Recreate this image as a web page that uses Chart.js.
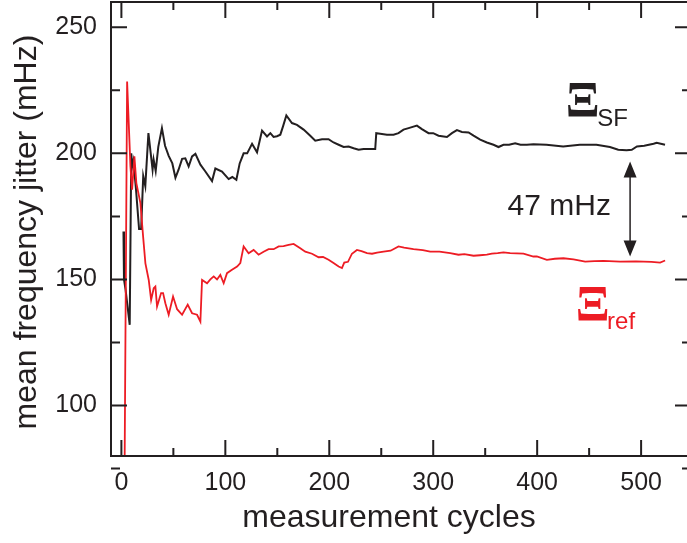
<!DOCTYPE html>
<html>
<head>
<meta charset="utf-8">
<script src="https://cdn.jsdelivr.net/npm/chart.js@4"></script>
<style>
  html, body { margin: 0; padding: 0; background: #fff; overflow: hidden; }
  #wrap { width: 692px; height: 543px; }
</style>
</head>
<body>
<div id="wrap"><canvas id="jitter_chart" width="692" height="543"></canvas></div>
<script>
// values (cycles, mHz)
const sfCycles = [2, 2.5, 4, 8, 9.5, 10.5, 11.5, 14, 17, 19, 21, 23, 26, 30, 31, 33, 35.5, 39, 42, 45.5, 49, 52, 55, 58.4, 61.5, 64.7, 68, 71.2, 76, 80.8, 87.2, 90.4, 96.8, 103.2, 106.7, 110.6, 113.8, 117.6, 121, 125.7, 130.5, 135.3, 140.1, 143.3, 146.4, 149.7, 152.9, 155.5, 158.7, 164.1, 168.9, 175.3, 181.7, 186.5, 193, 199.3, 204.1, 209, 213.8, 218.6, 223.4, 228.2, 233, 244.2, 245.2, 249, 255.5, 261.8, 266.6, 271.4, 276.3, 284.3, 289.1, 295.5, 300, 305.1, 313.2, 318, 322.8, 327.6, 334, 338.8, 345.2, 351.6, 358, 362.8, 367.6, 373, 378.8, 384, 390.1, 396.4, 409, 425, 441, 457, 470, 478, 486, 491, 496, 503, 512, 515, 523];
const sfJitter = [169, 150, 146, 132, 200, 195, 197, 186, 170, 170, 191, 187, 208, 193.5, 197.5, 193, 202.6, 210, 203, 199, 196, 190.3, 193.5, 197.8, 198, 194.8, 198.8, 199.8, 195.5, 192.8, 189, 194, 192.8, 189.8, 190.6, 189.5, 196, 200, 200, 203.8, 200.4, 209, 206.7, 208, 206.5, 206.8, 207.4, 210.7, 215, 212, 211.3, 209.4, 207, 205, 205.6, 205.6, 204.3, 203.4, 202.5, 202.7, 202, 201.4, 201.7, 201.7, 208, 207.8, 207.4, 207.4, 208, 209.4, 210, 211, 209.6, 208, 208, 207, 206.5, 208, 209.2, 208.5, 208.3, 207, 205.4, 204.3, 203.4, 202.5, 203.4, 203.4, 204, 203.4, 203.4, 203.6, 203.4, 202.7, 203.4, 203.4, 202.5, 201.4, 201.2, 201.4, 202.7, 203, 203.8, 204.2, 203.4];

const refCycles = [3, 5.5, 8.7, 10.3, 12.5, 14.4, 18.3, 20.9, 23.1, 26.3, 28.6, 31.1, 32.7, 34.3, 38.2, 40.1, 42.3, 45.5, 49.7, 53.6, 58.4, 63.8, 68, 72.8, 76, 77.6, 82.4, 85.6, 88.8, 92, 95.2, 98.4, 101.6, 106.4, 111.3, 114.4, 117.6, 122.4, 127.2, 132, 136.8, 141.6, 146.5, 151.3, 156, 160.9, 165.7, 172.1, 176.9, 183.4, 189.7, 194, 199.3, 204.1, 209, 212.2, 214.4, 218, 221.8, 226.6, 231, 236.3, 241.1, 246, 252.2, 259, 266.6, 272, 281, 290, 297.1, 306, 316.3, 324.3, 330, 338.8, 345, 351.6, 356.4, 362, 367.6, 374, 386.8, 396.4, 399.7, 409.3, 417, 425.3, 435, 446.2, 455, 463.8, 479.8, 495, 510, 518.3, 523.1];
const refJitter = [70, 228.5, 194.8, 185.6, 198.8, 188.2, 180.3, 167, 156.4, 149.8, 141.9, 146.5, 147.2, 139.3, 144.6, 144.6, 140.6, 136, 143.2, 138.2, 136, 140, 136.6, 136, 133.3, 149.8, 148.5, 150, 151.2, 150, 151.8, 148.5, 152.5, 153.8, 155.1, 156.5, 163.1, 160.4, 161.7, 159.8, 161, 162, 162, 163.1, 163.2, 163.7, 164.1, 162.4, 161, 160.2, 158.8, 158.9, 157.8, 156.5, 155.1, 154.5, 156.7, 157, 160.2, 161.7, 161.2, 160.4, 160.2, 160.6, 161, 161.4, 163.1, 162.6, 162, 161.6, 161, 161, 160.4, 159.8, 160, 159.4, 159.6, 159.8, 160.2, 160.4, 160.7, 160.4, 160.2, 159.1, 159.1, 157.8, 158.2, 158.4, 158, 157.1, 157.3, 157.4, 157.1, 157.2, 157, 156.7, 157.5];

const xMajor = [0, 100, 200, 300, 400, 500];
const xMinor = [50, 150, 250, 350, 450];
const yMajor = [100, 150, 200, 250];
const yMinor = [75, 125, 175, 225];

// the 47 mHz gap marker (from SF level to ref level)
const gapCycle = 489.4;
const gapTop = 196.8, gapBottom = 159.1;

const ink = '#231f20';
const red = '#ed1c24';

function toPoints(xs, ys) {
	return xs.map((v, i) => ({x: v, y: ys[i]}));
}

//frame with inward ticks on all four sides
const frame = {
	id: 'frame',
	afterDatasetsDraw(chart) {
		const {ctx, chartArea: a, scales: {x, y}} = chart;
		ctx.save();
		ctx.strokeStyle = ink;
		ctx.lineWidth = 2;
		ctx.strokeRect(a.left, a.top, a.right - a.left, a.bottom - a.top);
		ctx.beginPath();
		const tx = (v, len) => {
			const p = x.getPixelForValue(v);
			ctx.moveTo(p, a.bottom); ctx.lineTo(p, a.bottom - len);
			ctx.moveTo(p, a.top); ctx.lineTo(p, a.top + len);
		};
		const ty = (v, len) => {
			const p = y.getPixelForValue(v);
			ctx.moveTo(a.left, p); ctx.lineTo(a.left + len, p);
			ctx.moveTo(a.right, p); ctx.lineTo(a.right - len, p);
		};
		xMajor.forEach(v => tx(v, 16));
		xMinor.forEach(v => tx(v, 8));
		yMajor.forEach(v => ty(v, 16));
		yMinor.forEach(v => ty(v, 9));
		ctx.stroke();

		// axis titles
		ctx.fillStyle = ink;
		ctx.font = '32px "Liberation Sans", Arial, sans-serif';
		ctx.textAlign = 'center';
		ctx.textBaseline = 'middle';
		ctx.fillText('measurement cycles', 389, 518);
		ctx.translate(27, 232);
		ctx.rotate(-Math.PI / 2);
		ctx.fillText('mean frequency jitter (mHz)', 0, 0);
		ctx.restore();
	}
};

//labels and the double arrow
const notes = {
	id: 'notes',
	afterDatasetsDraw(chart) {
		const {ctx, scales: {x, y}} = chart;
		ctx.save();
		const ax = x.getPixelForValue(gapCycle);
		const y1 = y.getPixelForValue(gapTop);
		const y2 = y.getPixelForValue(gapBottom);
		ctx.strokeStyle = ink;
		ctx.fillStyle = ink;
		ctx.lineWidth = 1.5;
		ctx.beginPath();
		ctx.moveTo(ax, y1 + 10); ctx.lineTo(ax, y2 - 10);
		ctx.stroke();
		ctx.beginPath();
		ctx.moveTo(ax, y1); ctx.lineTo(ax - 6.5, y1 + 16); ctx.lineTo(ax + 6.5, y1 + 16); ctx.closePath();
		ctx.moveTo(ax, y2); ctx.lineTo(ax - 6.5, y2 - 16); ctx.lineTo(ax + 6.5, y2 - 16); ctx.closePath();
		ctx.fill();

		ctx.font = '30px "Liberation Sans", Arial, sans-serif';
		ctx.textAlign = 'center';
		ctx.textBaseline = 'middle';
		ctx.fillText('47 mHz', x.getPixelForValue(421.2), y.getPixelForValue(178.9));

		ctx.textAlign = 'left';
		ctx.textBaseline = 'alphabetic';
		ctx.font = 'bold 50px "Liberation Serif", "Times New Roman", serif';
		ctx.fillText('Ξ', x.getPixelForValue(427.5), y.getPixelForValue(214.9));
		ctx.font = '24px "Liberation Sans", Arial, sans-serif';
		ctx.fillText('SF', x.getPixelForValue(457.7), y.getPixelForValue(210.8));

		ctx.fillStyle = red;
		ctx.font = 'bold 50px "Liberation Serif", "Times New Roman", serif';
		ctx.fillText('Ξ', x.getPixelForValue(437.2), y.getPixelForValue(134));
		ctx.font = '24px "Liberation Sans", Arial, sans-serif';
		ctx.fillText('ref', x.getPixelForValue(467.3), y.getPixelForValue(130.4));
		ctx.restore();
	}
};

// fixed box sizes, no extra room for overhanging tick labels
function fixBox(s, w, h) {
	if (w) s.width = w;
	if (h) s.height = h;
	s.paddingTop = 0; s.paddingBottom = 0;
	s.paddingLeft = 0; s.paddingRight = 0;
}

const ctx = document.getElementById('jitter_chart').getContext('2d');
const my_chart = new Chart(ctx, {
	type: 'line',
	data: {
		datasets: [{
			label: 'ref',
			data: toPoints(refCycles, refJitter),
			borderColor: red,
			borderWidth: 1.8,
			pointRadius: 0,
			fill: false,
			tension: 0
		}, {
			label: 'SF',
			data: toPoints(sfCycles, sfJitter),
			borderColor: ink,
			borderWidth: 2,
			pointRadius: 0,
			fill: false,
			tension: 0
		}]
	},
	options: {
		responsive: false,
		animation: false,
		layout: {padding: {top: 2, right: 1, left: 0, bottom: 0}},
		plugins: {legend: {display: false}, tooltip: {enabled: false}},
		scales: {
			x: {
				type: 'linear',
				min: -10,
				max: 548,
				afterFit: s => fixBox(s, 0, 87),
				afterBuildTicks: s => { s.ticks = xMajor.map(v => ({value: v})); },
				grid: {display: false, drawTicks: false},
				border: {display: false},
				ticks: {
					color: ink,
					padding: 12,
					maxRotation: 0,
					font: {family: '"Liberation Sans", Arial, sans-serif', size: 25}
				}
			},
			y: {
				type: 'linear',
				min: 80,
				max: 260,
				afterFit: s => fixBox(s, 111, 0),
				afterBuildTicks: s => { s.ticks = yMajor.map(v => ({value: v})); },
				grid: {display: false, drawTicks: false},
				border: {display: false},
				ticks: {
					color: ink,
					padding: 14,
					font: {family: '"Liberation Sans", Arial, sans-serif', size: 25}
				}
			}
		}
	},
	plugins: [frame, notes]
});
</script>
</body>
</html>
